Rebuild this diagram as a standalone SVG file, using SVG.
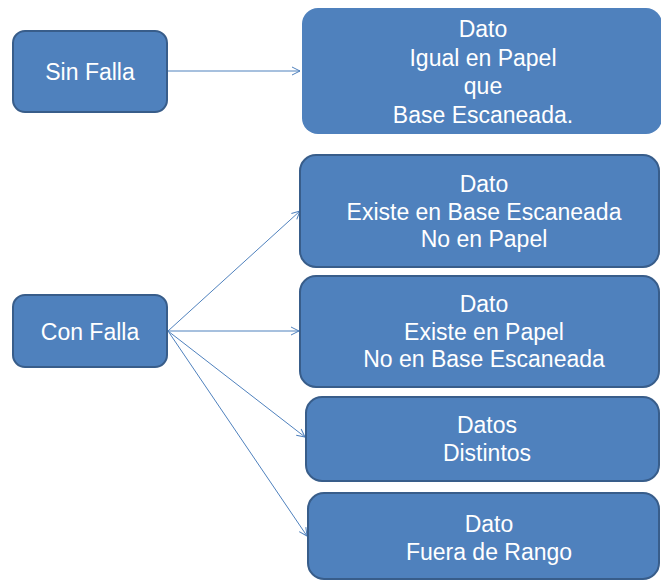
<svg xmlns="http://www.w3.org/2000/svg" width="661" height="581" viewBox="0 0 661 581">
<defs>
<style>
.box{fill:#4f81bd;stroke:#385d8a;stroke-width:2}
.nob{fill:#4f81bd;stroke:none}
.t{font-family:"Liberation Sans",Arial,sans-serif;font-size:23px;fill:#ffffff;text-anchor:middle}
.c{stroke:#4f81bd;stroke-width:1;fill:none;marker-end:url(#ah)}
</style>
<marker id="ah" markerUnits="userSpaceOnUse" markerWidth="12" markerHeight="12" refX="9" refY="5" orient="auto">
<path d="M1,1 L9,5 L1,9" fill="none" stroke="#4f81bd" stroke-width="1"/>
</marker>
</defs>
<rect width="661" height="581" fill="#ffffff"/>
<g id="connectors">
<line class="c" x1="168" y1="71" x2="300" y2="71"/>
<line class="c" x1="168" y1="331" x2="300" y2="211"/>
<line class="c" x1="168" y1="331" x2="299" y2="331"/>
<line class="c" x1="168" y1="331" x2="305" y2="437"/>
<line class="c" x1="168" y1="331" x2="307" y2="536"/>
</g>
<g id="sin-falla">
<rect class="box" x="13" y="31" width="154" height="81" rx="12"/>
<text class="t" x="90" y="80">Sin Falla</text>
</g>
<g id="con-falla">
<rect class="box" x="13" y="295" width="154" height="72" rx="12"/>
<text class="t" x="90" y="340">Con Falla</text>
</g>
<g id="igual">
<rect class="nob" x="302" y="8" width="360" height="126" rx="16"/>
<text class="t" x="483" y="37">Dato</text>
<text class="t" x="483" y="66">Igual en Papel</text>
<text class="t" x="483" y="94">que</text>
<text class="t" x="483" y="123">Base Escaneada.</text>
</g>
<g id="existe-base">
<rect class="box" x="300" y="155" width="359" height="112" rx="16"/>
<text class="t" x="484" y="192">Dato</text>
<text class="t" x="484" y="220">Existe en Base Escaneada</text>
<text class="t" x="484" y="247">No en Papel</text>
</g>
<g id="existe-papel">
<rect class="box" x="300" y="276" width="359" height="111" rx="16"/>
<text class="t" x="484" y="312">Dato</text>
<text class="t" x="484" y="340">Existe en Papel</text>
<text class="t" x="484" y="367">No en Base Escaneada</text>
</g>
<g id="distintos">
<rect class="box" x="306" y="397" width="353" height="84" rx="16"/>
<text class="t" x="487" y="433">Datos</text>
<text class="t" x="487" y="461">Distintos</text>
</g>
<g id="fuera-rango">
<rect class="box" x="308" y="493" width="351" height="86" rx="16"/>
<text class="t" x="489" y="532">Dato</text>
<text class="t" x="489" y="560">Fuera de Rango</text>
</g>
</svg>
